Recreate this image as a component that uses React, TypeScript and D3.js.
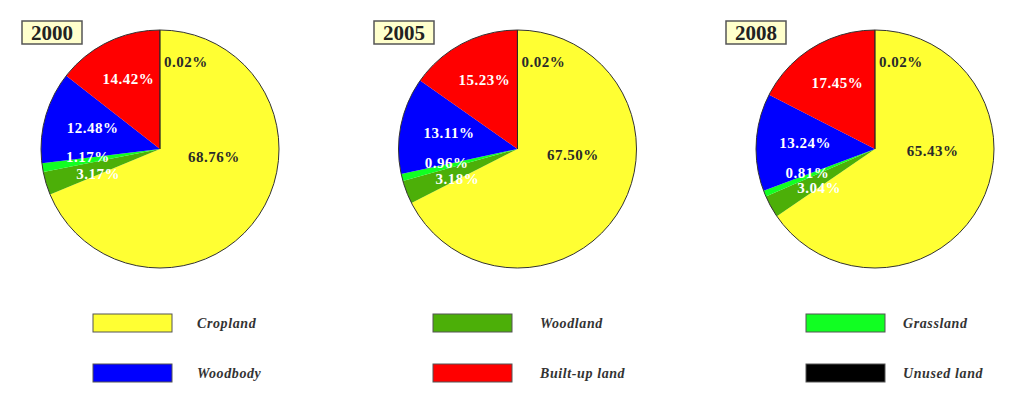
import * as d3 from "d3";
import { useEffect, useRef } from "react";

const categories = ["Cropland", "Woodland", "Grassland", "Woodbody", "Built-up land", "Unused land"];
const years = ["2000", "2005", "2008"];
const share2000 = [68.76, 3.17, 1.17, 12.48, 14.42, 0.02];
const share2005 = [67.5, 3.18, 0.96, 13.11, 15.23, 0.02];
const share2008 = [65.43, 3.04, 0.81, 13.24, 17.45, 0.02];
const shares = [share2000, share2005, share2008];

const colors = ["#ffff33", "#4caf08", "#11ff22", "#0000ff", "#ff0000", "#000000"];
const labelColors = ["#2a2a2a", "#ffffff", "#ffffff", "#ffffff", "#ffffff", "#2a2a2a"];
// hand-placed label nudges (px) from the slice centroid, like the original
const nudges: [number, number][] = [[-6, -32], [7, 4], [-1, -3], [2, -2], [0, -5], [26, -15]];

const W = 1024;
const H = 411;
const R = 119;
const LABEL_R = 72;

export default function App() {
  const ref = useRef<SVGSVGElement>(null);

  useEffect(() => {
    if (!ref.current) return;
    const svg = d3.select(ref.current);
    svg.selectAll("*").remove();

    const cx = d3.scaleLinear().domain([0, 2]).range([160, 875]);
    const boxX = d3.scaleOrdinal<number, number>().domain([0, 1, 2]).range([22, 374, 726]);
    const cy = 149;

    const pie = d3.pie<number>().sort(null).value((d) => d);
    const arc = d3.arc<d3.PieArcDatum<number>>().innerRadius(0).outerRadius(R);
    const labelArc = d3.arc<d3.PieArcDatum<number>>().innerRadius(LABEL_R).outerRadius(LABEL_R);
    const fmt = d3.format(".2f");

    shares.forEach((vals, yi) => {
      const g = svg.append("g").attr("transform", `translate(${cx(yi)},${cy})`);
      const arcs = pie(vals);

      g.selectAll("path.slice")
        .data(arcs)
        .enter()
        .append("path")
        .attr("class", "slice")
        .attr("d", arc as any)
        .attr("fill", (_, i) => colors[i]);

      // thin vertical rule where the unused-land sliver sits
      g.append("path")
        .attr("d", arc(arcs[5]) as string)
        .attr("fill", "none")
        .attr("stroke", "#222")
        .attr("stroke-width", 0.8);

      g.append("circle")
        .attr("r", R)
        .attr("fill", "none")
        .attr("stroke", "#333")
        .attr("stroke-width", 1);

      g.selectAll("text.pct")
        .data(arcs)
        .enter()
        .append("text")
        .attr("class", "pct")
        .attr("x", (d, i) => labelArc.centroid(d)[0] + nudges[i][0])
        .attr("y", (d, i) => labelArc.centroid(d)[1] + nudges[i][1])
        .attr("text-anchor", "middle")
        .attr("dominant-baseline", "central")
        .attr("font-family", "'Liberation Serif', 'Times New Roman', serif")
        .attr("font-weight", "bold")
        .attr("font-size", 15)
        .attr("letter-spacing", 0.5)
        .attr("fill", (_, i) => labelColors[i])
        .text((d) => `${fmt(d.value)}%`);

      const bx = boxX(yi);
      svg.append("rect")
        .attr("x", bx)
        .attr("y", 21)
        .attr("width", 60)
        .attr("height", 23)
        .attr("fill", "#ffffcc")
        .attr("stroke", "#555")
        .attr("stroke-width", 1.5);
      svg.append("text")
        .attr("x", bx + 30)
        .attr("y", 33)
        .attr("text-anchor", "middle")
        .attr("dominant-baseline", "central")
        .attr("font-family", "'Liberation Serif', 'Times New Roman', serif")
        .attr("font-weight", "bold")
        .attr("font-size", 21)
        .attr("fill", "#222")
        .text(years[yi]);
    });

    // legend: 3 columns x 2 rows
    const colX = d3.scaleOrdinal<number, number>().domain([0, 1, 2]).range([93, 433, 806]);
    const textX = d3.scaleOrdinal<number, number>().domain([0, 1, 2]).range([197, 540, 903]);
    const rowY = d3.scaleOrdinal<number, number>().domain([0, 1]).range([314, 364]);
    const leg = svg.append("g");
    categories.forEach((name, i) => {
      const x = colX(i % 3);
      const y = rowY(Math.floor(i / 3));
      leg.append("rect")
        .attr("x", x)
        .attr("y", y)
        .attr("width", 79)
        .attr("height", 18)
        .attr("fill", colors[i])
        .attr("stroke", "#555")
        .attr("stroke-width", 1);
      leg.append("text")
        .attr("x", textX(i % 3))
        .attr("y", y + 9)
        .attr("dominant-baseline", "central")
        .attr("font-family", "'Liberation Serif', 'Times New Roman', serif")
        .attr("font-weight", "bold")
        .attr("font-style", "italic")
        .attr("font-size", 14)
        .attr("letter-spacing", 0.6)
        .attr("fill", "#333")
        .text(name);
    });
  }, []);

  return (
    <div style={{ position: "absolute", left: 0, top: 0 }}>
      <svg ref={ref} width={W} height={H} style={{ display: "block", background: "#fff" }} />
    </div>
  );
}
